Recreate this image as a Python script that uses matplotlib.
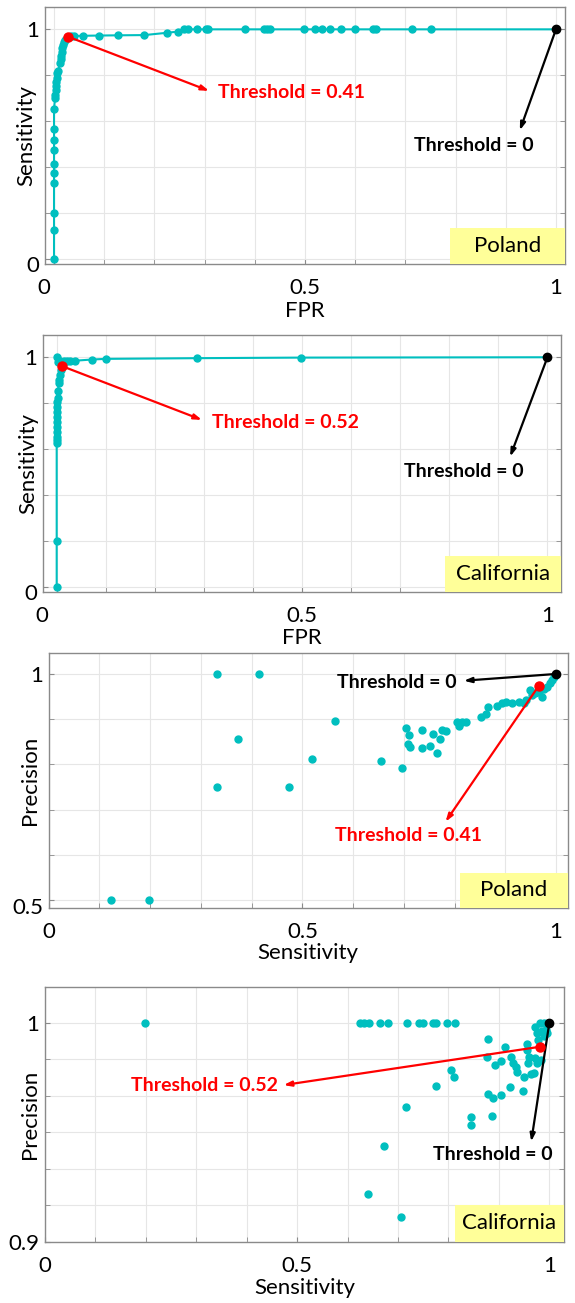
import matplotlib
matplotlib.use("Agg")
import matplotlib.pyplot as plt
from matplotlib.patches import Rectangle
from matplotlib.transforms import ScaledTranslation
import numpy as np

plt.rcParams['font.family'] = ['Lato', 'DejaVu Sans']

TEAL = '#00BFBF'
RED = '#FF0000'

# ---------------- Data ----------------
# Panel 1: ROC, Poland
roc_pl_fpr = [0, 0, 0, 0, 0, 0, 0, 0, 0, 0, 0.002, 0.002, 0.003, 0.004, 0.004, 0.005,
              0.006, 0.008, 0.012, 0.014, 0.014, 0.015, 0.016, 0.018, 0.020, 0.022, 0.025,
              0.028, 0.034, 0.040, 0.058, 0.090, 0.128, 0.180, 0.225, 0.246, 0.258, 0.266,
              0.285, 0.302, 0.306, 0.380, 0.419, 0.425, 0.430, 0.499, 0.519, 0.533, 0.550,
              0.572, 0.600, 0.636, 0.641, 0.714, 0.751, 1.0]
roc_pl_tpr = [0, 0.124, 0.201, 0.332, 0.374, 0.415, 0.473, 0.519, 0.564, 0.655, 0.699, 0.713,
              0.735, 0.752, 0.771, 0.790, 0.808, 0.819, 0.852, 0.869, 0.884, 0.902, 0.918,
              0.932, 0.945, 0.955, 0.962, 0.968, 0.970, 0.971, 0.972, 0.973, 0.974, 0.975,
              0.985, 0.990, 1.0, 1.0, 1.0, 1.0, 1.0, 1.0, 1.0, 1.0, 1.0, 1.0, 1.0, 1.0, 1.0,
              1.0, 1.0, 1.0, 1.0, 1.0, 1.0, 1.0]
roc_pl_sel = (0.028, 0.968)   # threshold 0.41
roc_pl_zero = (1.0, 1.0)      # threshold 0

# Panel 2: ROC, California
roc_ca_fpr = [0, 0, 0, 0, 0, 0, 0, 0, 0, 0, 0, 0, 0.002, 0.003, 0.004, 0.005, 0.006, 0.008,
              0.010, 0.002, 0.000, 0.007, 0.014, 0.020, 0.027, 0.037, 0.071, 0.100, 0.285,
              0.4985, 1.0]
roc_ca_tpr = [0, 0.2005, 0.625, 0.640, 0.654, 0.676, 0.698, 0.719, 0.741, 0.763, 0.785, 0.807,
              0.821, 0.854, 0.887, 0.901, 0.923, 0.945, 0.959, 0.981, 1.0, 0.985, 0.985, 0.985,
              0.983, 0.985, 0.990, 0.993, 0.996, 0.9985, 1.0]
roc_ca_sel = (0.010, 0.962)   # threshold 0.52
roc_ca_zero = (1.0, 1.0)

# Panel 3: Precision vs Sensitivity, Poland
pr_pl_sens = [0.123, 0.198, 0.332, 0.415, 0.373, 0.332, 0.473, 0.519, 0.564, 0.655, 0.696,
              0.705, 0.710, 0.708, 0.712, 0.735, 0.735, 0.751, 0.757, 0.766, 0.771, 0.775,
              0.782, 0.804, 0.809, 0.815, 0.822, 0.852, 0.861, 0.865, 0.883, 0.893, 0.901,
              0.914, 0.926, 0.937, 0.941, 0.948, 0.952, 0.959, 0.966, 0.972, 0.977, 0.982,
              0.988, 0.991, 0.995]
pr_pl_prec = [0.5, 0.5, 1.0, 1.0, 0.857, 0.750, 0.750, 0.812, 0.895, 0.808, 0.793, 0.880,
              0.865, 0.846, 0.838, 0.877, 0.837, 0.841, 0.868, 0.825, 0.855, 0.876, 0.873,
              0.894, 0.884, 0.893, 0.894, 0.905, 0.911, 0.927, 0.929, 0.935, 0.937, 0.935,
              0.939, 0.935, 0.942, 0.965, 0.954, 0.957, 0.961, 0.950, 0.966, 0.972, 0.979,
              0.987, 0.993]
pr_pl_sel = (0.966, 0.974)
pr_pl_zero = (1.0, 1.0)

# Panel 4: Precision vs Sensitivity, California
pr_ca_sens = [0.198, 0.625, 0.633, 0.642, 0.665, 0.680, 0.718, 0.742, 0.749, 0.769, 0.776,
              0.798, 0.812, 0.640, 0.705, 0.673, 0.715, 0.776, 0.805, 0.811, 0.845, 0.845,
              0.878, 0.876, 0.878, 0.889, 0.887, 0.892, 0.904, 0.905, 0.913, 0.924, 0.922,
              0.927, 0.933, 0.936, 0.947, 0.950, 0.955, 0.956, 0.960, 0.958, 0.964, 0.969,
              0.971, 0.975, 0.984, 0.971, 0.975, 0.978, 0.982, 0.989, 0.993, 0.996, 0.998,
              0.985, 0.990]
pr_ca_prec = [1.0, 1.0, 1.0, 1.0, 1.0, 1.0, 1.0, 1.0, 1.0, 1.0, 1.0, 1.0, 1.0, 0.9218,
              0.9114, 0.9438, 0.9616, 0.9712, 0.9784, 0.9750, 0.9571, 0.9533, 0.9925, 0.9842,
              0.9674, 0.9658, 0.9575, 0.9807, 0.9670, 0.9826, 0.9887, 0.9842, 0.9705, 0.9814,
              0.9796, 0.9773, 0.9688, 0.9753, 0.9903, 0.9875, 0.9845, 0.9814, 0.9765, 0.9769,
              0.9837, 0.9817, 0.9830, 0.9982, 0.9951, 0.9921, 1.0, 0.9997, 0.9967, 0.9951,
              1.0, 0.9960, 0.9940]
pr_ca_sel = (0.982, 0.989)
pr_ca_zero = (1.0, 1.0)

W, H = 575, 1303
fig = plt.figure(figsize=(W / 100, H / 100), dpi=100)


def make_axes(left, top, right, bottom):
    ax = fig.add_axes([left / W, 1 - bottom / H, (right - left) / W, (bottom - top) / H])
    ax._px = (left, top, right, bottom)
    return ax


def style(ax, xlim, ylim, xmajor, ymajor, xminor, yminor, xlabel, ylabel,
          xlabel_y_px, ylabel_x_px):
    ax.set_xlim(*xlim)
    ax.set_ylim(*ylim)
    ax.set_xticks(xmajor)
    ax.set_xticklabels([('%g' % v) for v in xmajor])
    ax.set_yticks(ymajor)
    ax.set_yticklabels([('%g' % v) for v in ymajor])
    ax.set_xticks(xminor, minor=True)
    ax.set_yticks(yminor, minor=True)
    ax.grid(True, which='both', color='#e6e6e6', lw=0.8, zorder=0)
    ax.set_axisbelow(True)
    ax.tick_params(which='both', direction='in', length=3.5, color='#8a8a8a',
                   labelsize=16, top=False, right=True)
    ax.tick_params(axis='x', pad=10)
    ax.tick_params(axis='y', pad=4)
    for s in ax.spines.values():
        s.set_color('#8a8a8a')
        s.set_linewidth(1.0)
    left, top, right, bottom = ax._px
    ax.set_xlabel(xlabel, fontsize=16, va='center')
    ax.xaxis.set_label_coords(0.5, -(xlabel_y_px - bottom) / (bottom - top))
    ax.set_ylabel(ylabel, fontsize=16, va='center')
    ax.yaxis.set_label_coords(-(left - ylabel_x_px) / (right - left), 0.5)


def shift_label(ax, axis, value, dx_px, dy_px):
    labels = ax.get_xticklabels() if axis == 'x' else ax.get_yticklabels()
    for lab in labels:
        if lab.get_text() == value:
            lab.set_transform(lab.get_transform() +
                              ScaledTranslation(dx_px / 100, dy_px / 100, fig.dpi_scale_trans))


def region_box(ax, text, w, h):
    ax.add_patch(Rectangle((1 - w, 0), w, h, transform=ax.transAxes, facecolor='#FFFF99',
                           edgecolor='none', zorder=5, clip_on=False))
    ax.text(1 - w / 2, h / 2, text, transform=ax.transAxes, ha='center', va='center',
            fontsize=16, zorder=6)


def arrow(ax, start, head, color):
    ax.annotate('', xy=head, xytext=start,
                arrowprops=dict(arrowstyle='-|>,head_length=0.45,head_width=0.15',
                                color=color, lw=1.6, shrinkA=0, shrinkB=0), zorder=7)


xgrid = np.round(np.arange(0.1, 1.0, 0.1), 2)

# ---- Panel 1 ----
ax1 = make_axes(45, 7.3, 565, 264)
style(ax1, (-0.018, 1.018), (-0.022, 1.096), [0, 0.5, 1], [0, 1], xgrid,
      [0.2, 0.4, 0.6, 0.8], 'FPR', 'Sensitivity', 311, 26)
ax1.plot(roc_pl_fpr, roc_pl_tpr, '-o', color=TEAL, lw=1.5, ms=5, zorder=3)
ax1.plot(*roc_pl_sel, 'o', color=RED, ms=6.5, zorder=8)
ax1.plot(*roc_pl_zero, 'o', color='black', ms=6, zorder=8)
arrow(ax1, roc_pl_sel, (0.309, 0.732), RED)
ax1.text(0.327, 0.723, 'Threshold = 0.41', color=RED, fontsize=14, fontweight='bold',
         ha='left', va='center', zorder=8)
arrow(ax1, roc_pl_zero, (0.928, 0.560), 'black')
ax1.text(0.836, 0.495, 'Threshold = 0', color='black', fontsize=14, fontweight='bold',
         ha='center', va='center', zorder=8)
region_box(ax1, 'Poland', 0.222, 0.14)
shift_label(ax1, 'x', '0', -10, 0)
shift_label(ax1, 'y', '0', 0, -5)

# ---- Panel 2 ----
ax2 = make_axes(42.7, 335, 560.7, 592)
style(ax2, (-0.0285, 1.027), (-0.023, 1.097), [0, 0.5, 1], [0, 1], xgrid,
      [0.2, 0.4, 0.6, 0.8], 'FPR', 'Sensitivity', 638, 28)
ax2.plot(roc_ca_fpr, roc_ca_tpr, '-o', color=TEAL, lw=1.5, ms=5, zorder=3)
ax2.plot(*roc_ca_sel, 'o', color=RED, ms=6.5, zorder=8)
ax2.plot(*roc_ca_zero, 'o', color='black', ms=6, zorder=8)
arrow(ax2, roc_ca_sel, (0.296, 0.727), RED)
ax2.text(0.316, 0.717, 'Threshold = 0.52', color=RED, fontsize=14, fontweight='bold',
         ha='left', va='center', zorder=8)
arrow(ax2, roc_ca_zero, (0.924, 0.567), 'black')
ax2.text(0.83, 0.501, 'Threshold = 0', color='black', fontsize=14, fontweight='bold',
         ha='center', va='center', zorder=8)
region_box(ax2, 'California', 0.223, 0.139)
shift_label(ax2, 'x', '0', -15, 0)
shift_label(ax2, 'y', '0', 0, -5)

# ---- Panel 3 ----
ax3 = make_axes(48.7, 652.7, 567.8, 908.3)
style(ax3, (0, 1.023), (0.4816, 1.047), [0, 0.5, 1], [0.5, 1], xgrid,
      [0.6, 0.7, 0.8, 0.9], 'Sensitivity', 'Precision', 953, 30)
ax3.plot(pr_pl_sens, pr_pl_prec, 'o', color=TEAL, ms=5, zorder=3)
ax3.plot(*pr_pl_sel, 'o', color=RED, ms=6.5, zorder=8)
ax3.plot(*pr_pl_zero, 'o', color='black', ms=6, zorder=8)
arrow(ax3, pr_pl_zero, (0.818, 0.985), 'black')
ax3.text(0.804, 0.9816, 'Threshold = 0', color='black', fontsize=14, fontweight='bold',
         ha='right', va='center', zorder=8)
arrow(ax3, pr_pl_sel, (0.782, 0.673), RED)
ax3.text(0.564, 0.642, 'Threshold = 0.41', color=RED, fontsize=14, fontweight='bold',
         ha='left', va='center', zorder=8)
region_box(ax3, 'Poland', 0.208, 0.14)
shift_label(ax3, 'y', '0.5', 0, -6)

# ---- Panel 4 ----
ax4 = make_axes(45, 986.7, 564, 1241.7)
style(ax4, (0, 1.029), (0.9, 1.0164), [0, 0.5, 1], [0.9, 1], xgrid,
      [0.9 + k / 60 for k in range(1, 6)], 'Sensitivity', 'Precision', 1288, 30)
ax4.plot(pr_ca_sens, pr_ca_prec, 'o', color=TEAL, ms=5, zorder=3)
ax4.plot(*pr_ca_sel, 'o', color=RED, ms=6.5, zorder=8)
ax4.plot(*pr_ca_zero, 'o', color='black', ms=6, zorder=8)
arrow(ax4, pr_ca_sel, (0.473, 0.9715), RED)
ax4.text(0.462, 0.9715, 'Threshold = 0.52', color=RED, fontsize=14, fontweight='bold',
         ha='right', va='center', zorder=8)
arrow(ax4, pr_ca_zero, (0.964, 0.9457), 'black')
ax4.text(0.887, 0.940, 'Threshold = 0', color='black', fontsize=14, fontweight='bold',
         ha='center', va='center', zorder=8)
region_box(ax4, 'California', 0.21, 0.144)

fig.savefig('out.png', dpi=100)
